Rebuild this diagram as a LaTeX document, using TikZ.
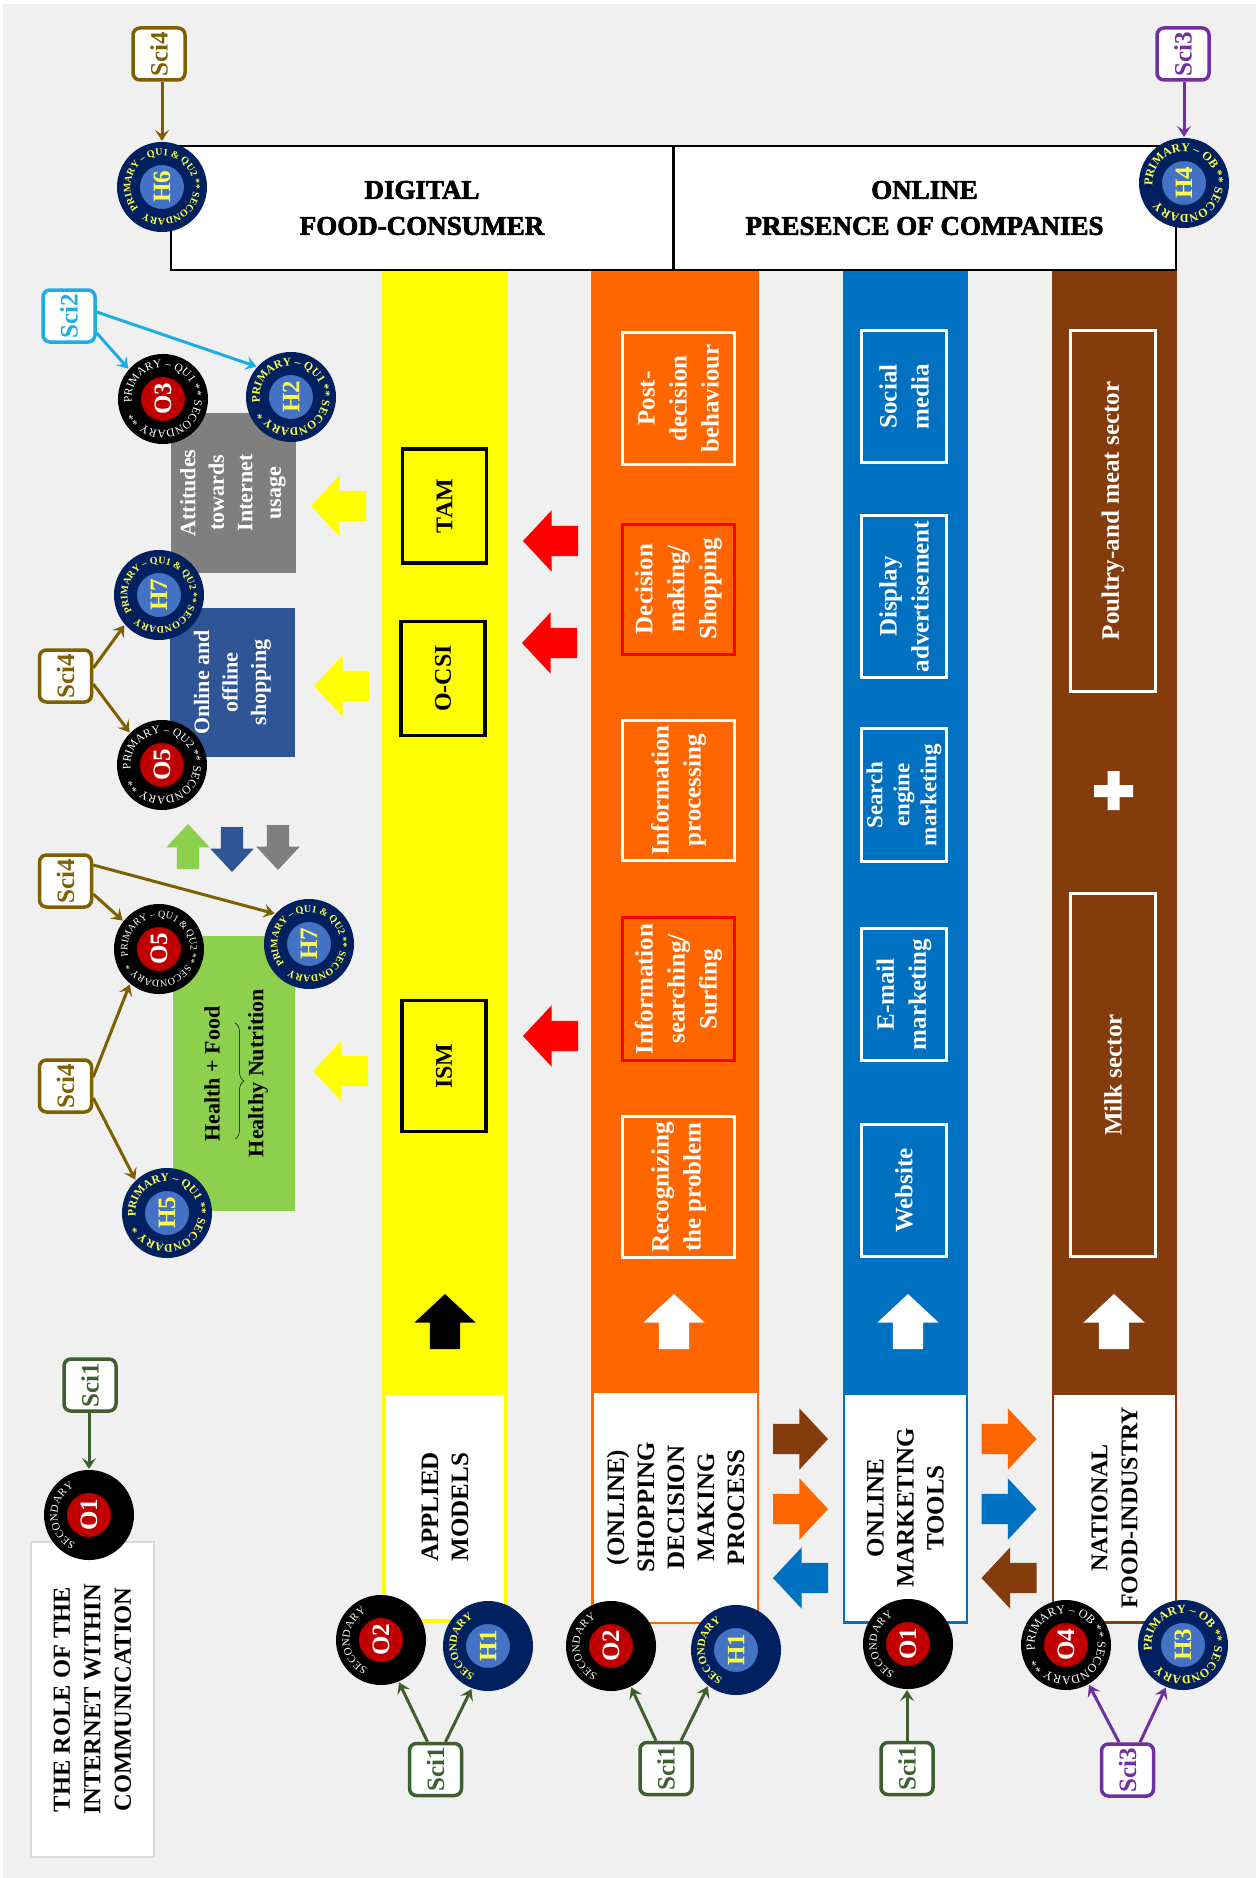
\documentclass[tikz,border=0pt]{standalone}
\usepackage{fontspec}
\setmainfont{Liberation Serif}
\newfontfamily\headfont[UprightFont={* Bold},FakeBold=2.5]{Liberation Serif}
\usepackage{xcolor}
\usetikzlibrary{arrows.meta, shapes.arrows, decorations.text, decorations.pathreplacing}
\definecolor{pagegray}{HTML}{F0F0F0}
\definecolor{bandyellow}{HTML}{FFFF00}
\definecolor{bandorange}{HTML}{FF6600}
\definecolor{bandblue}{HTML}{0070C0}
\definecolor{bandbrown}{HTML}{843C0C}
\definecolor{topicgray}{HTML}{7F7F7F}
\definecolor{topicblue}{HTML}{2F5597}
\definecolor{topicgreen}{HTML}{8CD04E}
\definecolor{hnavy}{HTML}{002060}
\definecolor{hblue}{HTML}{4472C4}
\definecolor{hyellow}{HTML}{FFFF4D}
\definecolor{ored}{HTML}{C00000}
\definecolor{scibrown}{HTML}{7F6000}
\definecolor{scigreen}{HTML}{3F5F30}
\definecolor{sciblue}{HTML}{1CADE4}
\definecolor{scipurple}{HTML}{7030A0}
\newcommand{\ringtext}[6]{\path[decorate, decoration={text along path, text format delimiters={|}{|}, text={|\fontsize{#2}{#2}\selectfont#3|#6}, text align=fit to path}] ([shift={(#4:31.5pt)}]#1.center) arc[start angle=#4, delta angle=#5, radius=31.5pt];}

\begin{document}
\begin{tikzpicture}[
		x=1pt, y=-1pt,
		band/.style={rectangle, inner sep=0, outer sep=0},
		headbox/.style={draw=black, line width=2pt, fill=white, font=\headfont\fontsize{27}{36}\selectfont, align=center, minimum width=502pt, minimum height=124pt, inner sep=0},
		labelbox/.style={rotate=90, fill=white, font=\bfseries\fontsize{25}{30}\selectfont, align=center, inner sep=0, minimum width=226pt},
		stepbox/.style={rotate=90, draw=#1, line width=3pt, text=white, font=\bfseries\fontsize{25}{32}\selectfont, align=center, inner sep=0},
		modelbox/.style={rotate=90, draw=black, line width=3.5pt, font=\bfseries\fontsize{24}{30}\selectfont, inner sep=0, minimum height=84pt},
		topicbox/.style={rotate=90, fill=#1, text=white, font=\bfseries\fontsize{22}{28.5}\selectfont, align=center, inner sep=0, minimum height=125pt},
		sci/.style={rotate=90, draw=#1, text=#1, fill=white, line width=3.5pt, rounded corners=7pt, minimum width=52pt, minimum height=52pt, inner sep=0, font=\bfseries\fontsize{25}{25}\selectfont},
		sciarrow/.style={draw=#1, line width=3pt, -{Stealth[length=11pt, width=14pt, inset=4.5pt]}, shorten >=1pt},
		badgeh/.style={circle, fill=hblue, draw=hnavy, line width=23pt, minimum size=67pt, inner sep=0, text=hyellow, font=\bfseries\fontsize{25}{25}\selectfont},
		badgeo/.style={circle, fill=ored, draw=black, line width=23pt, minimum size=67pt, inner sep=0, text=white, font=\bfseries\fontsize{25}{25}\selectfont},
		bigarrow/.style={single arrow, fill=#1, anchor=tip, inner sep=0, inner ysep=15pt, outer sep=0, minimum height=55pt, minimum width=61pt, single arrow head extend=15.5pt, single arrow tip angle=94},
		smallarrow/.style={single arrow, fill=#1, anchor=tip, inner sep=0, inner ysep=11pt, outer sep=0, minimum height=45pt, minimum width=42pt, single arrow head extend=10.5pt, single arrow tip angle=86}
	]
	\useasboundingbox (0,0) rectangle (1258,1878);
	\fill[pagegray] (3,4) rectangle (1256,1878);

	% --- Bands ---
	\node[band, fill=bandyellow, minimum width=126pt, minimum height=1352pt] (b_model) at (445,947) {};
	\node[band, fill=bandorange, minimum width=168pt, minimum height=1353pt] (b_shop) at (675,947.5) {};
	\node[band, fill=bandblue, minimum width=125pt, minimum height=1353pt] (b_tool) at (905.5,947.5) {};
	\node[band, fill=bandbrown, minimum width=125pt, minimum height=1353pt] (b_ind) at (1114.5,947.5) {};

	% --- Header and titles ---
	\node[headbox] (h_cons) at (422,208) {DIGITAL\\FOOD-CONSUMER};
	\node[headbox] (h_comp) at (924.5,208) {ONLINE\\PRESENCE OF COMPANIES};
	\node[labelbox, minimum height=123pt, minimum width=315pt, draw=black!15, line width=1.5pt, font=\bfseries\fontsize{24.5}{30.5}\selectfont] (title) at (92.5,1699.5) {THE ROLE OF THE\\INTERNET WITHIN\\COMMUNICATION};
	\node[labelbox, minimum height=118pt, minimum width=224pt] (l_model) at (445,1507) {APPLIED\\MODELS};
	\node[labelbox, minimum height=163pt, minimum width=229pt] (l_shop) at (675.5,1507.5) {(ONLINE)\\SHOPPING\\DECISION\\MAKING\\PROCESS};
	\node[labelbox, minimum height=121pt] (l_tool) at (905.5,1508) {ONLINE\\MARKETING\\TOOLS};
	\node[labelbox, minimum height=121pt, font=\bfseries\fontsize{24}{30}\selectfont] (l_ind) at (1114.5,1508) {NATIONAL\\FOOD-INDUSTRY};

	% --- Applied models ---
	\node[modelbox, minimum width=114pt] (tam) at (444.5,506) {TAM};
	\node[modelbox, minimum width=114pt] (ocsi) at (443,678.5) {O-CSI};
	\node[modelbox, minimum width=131pt] (ism) at (444,1066) {ISM};

	% --- Decision steps ---
	\node[stepbox=white, minimum height=112pt, minimum width=132pt] (s_post) at (678.5,398.5) {Post-\\decision\\behaviour};
	\node[stepbox=red, minimum height=112pt, minimum width=130pt] (s_dec) at (678.5,589) {Decision\\making/\\Shopping};
	\node[stepbox=white, minimum height=112pt, minimum width=140pt] (s_proc) at (678.5,790.5) {Information\\processing};
	\node[stepbox=red, minimum height=112pt, minimum width=143pt] (s_search) at (678.5,989) {Information\\searching/\\Surfing};
	\node[stepbox=white, minimum height=112pt, minimum width=141pt] (s_rec) at (678.5,1187) {Recognizing\\the problem};

	% --- Marketing tools ---
	\node[stepbox=white, minimum height=85pt, minimum width=132pt] (t_soc) at (904,396.5) {Social\\media};
	\node[stepbox=white, minimum height=85pt, minimum width=162pt] (t_dis) at (904,596.5) {Display\\advertisement};
	\node[stepbox=white, minimum height=85pt, minimum width=133pt, font=\bfseries\fontsize{23}{27}\selectfont] (t_sea) at (904,795) {Search\\engine\\marketing};
	\node[stepbox=white, minimum height=85pt, minimum width=132pt] (t_mail) at (904,994.5) {E-mail\\marketing};
	\node[stepbox=white, minimum height=85pt, minimum width=132pt] (t_web) at (904,1190.5) {Website};

	% --- Sectors ---
	\node[stepbox=white, minimum height=85pt, minimum width=361pt] (f_meat) at (1113,511) {Poultry-and meat sector};
	\node[stepbox=white, minimum height=85pt, minimum width=363pt] (f_milk) at (1113,1075) {Milk sector};
	\fill[white] (1094,785) rectangle (1133,797) (1107.5,771) rectangle (1119.5,810);

	% --- Topics ---
	\node[topicbox=topicgray, minimum width=160pt] (n_att) at (233,493) {Attitudes\\towards\\Internet\\usage};
	\node[topicbox=topicblue, minimum width=149pt] (n_shop) at (232.5,682.5) {Online and\\offline\\shopping};
	\node[topicbox=topicgreen, minimum width=275pt, minimum height=122pt] (n_food) at (234,1073.5) {};
	\node[rotate=90, inner sep=0, font=\bfseries\fontsize{22}{26}\selectfont] (n_hf) at (212,1074) {Health + Food};
	\node[rotate=90, inner sep=0, font=\bfseries\fontsize{22}{26}\selectfont] (n_hn) at (258,1073) {Healthy Nutrition};
	\draw[decorate, decoration={brace, amplitude=9pt}, line width=.5pt] (235,1023) -- (235,1139);

	% --- Block arrows ---
	\node[bigarrow=red, rotate=180] (r_a) at (523,541) {};
	\node[bigarrow=red, rotate=180] (r_b) at (522,643) {};
	\node[bigarrow=red, rotate=180] (r_c) at (523,1036) {};
	\node[bigarrow=bandyellow, rotate=180] (y_a) at (311,506) {};
	\node[bigarrow=bandyellow, rotate=180] (y_b) at (314,686) {};
	\node[bigarrow=bandyellow, rotate=180] (y_c) at (313,1071) {};
	\node[bigarrow=black, rotate=90] (u_a) at (445,1294) {};
	\node[bigarrow=white, rotate=90] (u_b) at (674,1294) {};
	\node[bigarrow=white, rotate=90] (u_c) at (908,1294) {};
	\node[bigarrow=white, rotate=90] (u_d) at (1114,1294) {};
	\node[bigarrow=bandbrown] (g_a) at (828,1439) {};
	\node[bigarrow=bandorange] (g_b) at (828,1509) {};
	\node[bigarrow=bandblue, rotate=180] (g_c) at (773,1578) {};
	\node[bigarrow=bandorange] (g_d) at (1036.5,1439) {};
	\node[bigarrow=bandblue] (g_e) at (1036.5,1509) {};
	\node[bigarrow=bandbrown, rotate=180] (g_f) at (981.5,1578) {};
	\node[smallarrow=topicgreen, rotate=90] (a_up) at (188,824) {};
	\node[smallarrow=topicblue, rotate=-90] (a_blue) at (232,872) {};
	\node[smallarrow=topicgray, rotate=-90] (a_gray) at (278,870) {};

	% --- Badges ---
	\node[badgeh] (h6) at (162,187) {\rotatebox{90}{H6}};
	\node[badgeh] (h4) at (1184,183) {\rotatebox{90}{H4}};
	\node[badgeo] (o3) at (163,399) {\rotatebox{90}{O3}};
	\node[badgeh] (h2) at (291,397) {\rotatebox{90}{H2}};
	\node[badgeh] (h7_a) at (159,595) {\rotatebox{90}{H7}};
	\node[badgeo] (o5_a) at (162,765) {\rotatebox{90}{O5}};
	\node[badgeo] (o5_b) at (159,949) {\rotatebox{90}{O5}};
	\node[badgeh] (h7_b) at (309,944) {\rotatebox{90}{H7}};
	\node[badgeh] (h5) at (167,1213) {\rotatebox{90}{H5}};
	\node[badgeo] (o1_a) at (89,1515) {\rotatebox{90}{O1}};
	\node[badgeo] (o2_a) at (381,1640) {\rotatebox{90}{O2}};
	\node[badgeh] (h1_a) at (488,1646) {\rotatebox{90}{H1}};
	\node[badgeo] (o2_b) at (611,1646) {\rotatebox{90}{O2}};
	\node[badgeh] (h1_b) at (736,1650) {\rotatebox{90}{H1}};
	\node[badgeo] (o1_b) at (908,1644) {\rotatebox{90}{O1}};
	\node[badgeo] (o4) at (1066,1645) {\rotatebox{90}{O4}};
	\node[badgeh] (h3) at (1183,1645) {\rotatebox{90}{H3}};

	% --- Badge rings ---
	\ringtext{h6}{10}{\bfseries\color{hyellow}}{222}{-345}{PRIMARY – QU1 {\&} QU2 ** SECONDARY **}
	\ringtext{h4}{12}{\bfseries\color{hyellow}}{185}{-340}{PRIMARY – OB ** SECONDARY **}
	\ringtext{o3}{11.5}{\color{white}}{187}{-340}{PRIMARY – QU1 ** SECONDARY **}
	\ringtext{h2}{11.5}{\bfseries\color{hyellow}}{190}{-340}{PRIMARY – QU1 ** SECONDARY **}
	\ringtext{h7_a}{10}{\bfseries\color{hyellow}}{212}{-345}{PRIMARY – QU1 {\&} QU2 ** SECONDARY **}
	\ringtext{o5_a}{11.5}{\color{white}}{188}{-340}{PRIMARY – QU2 ** SECONDARY **}
	\ringtext{o5_b}{10}{\color{white}}{193}{-345}{PRIMARY – QU1 {\&} QU2 ** SECONDARY **}
	\ringtext{h7_b}{10}{\bfseries\color{hyellow}}{219}{-345}{PRIMARY – QU1 {\&} QU2 ** SECONDARY **}
	\ringtext{h5}{11.5}{\bfseries\color{hyellow}}{187}{-340}{PRIMARY – QU1 ** SECONDARY **}
	\ringtext{o4}{12}{\color{white}}{190}{-340}{PRIMARY – OB ** SECONDARY **}
	\ringtext{h3}{12}{\bfseries\color{hyellow}}{190}{-340}{PRIMARY – OB ** SECONDARY **}
	\ringtext{o1_a}{11}{\color{white}}{245}{-127}{SECONDARY}
	\ringtext{o2_a}{11}{\color{white}}{245}{-127}{SECONDARY}
	\ringtext{h1_a}{11}{\bfseries\color{hyellow}}{245}{-127}{SECONDARY}
	\ringtext{o2_b}{11}{\color{white}}{245}{-127}{SECONDARY}
	\ringtext{h1_b}{11}{\bfseries\color{hyellow}}{245}{-127}{SECONDARY}
	\ringtext{o1_b}{11}{\color{white}}{245}{-127}{SECONDARY}

	% --- Sci boxes ---
	\node[sci=scibrown] (sci_h6) at (159,54) {Sci4};
	\node[sci=scipurple] (sci_h4) at (1183,54) {Sci3};
	\node[sci=sciblue] (sci_i) at (69,316) {Sci2};
	\node[sci=scibrown] (sci_a) at (65.5,676) {Sci4};
	\node[sci=scibrown] (sci_b) at (65.5,881) {Sci4};
	\node[sci=scibrown] (sci_c) at (65.5,1086) {Sci4};
	\node[sci=scigreen] (sci_o1) at (90,1385) {Sci1};
	\node[sci=scigreen] (sci_m) at (435.5,1769.5) {Sci1};
	\node[sci=scigreen] (sci_s) at (666,1768.5) {Sci1};
	\node[sci=scigreen] (sci_t) at (907,1768.5) {Sci1};
	\node[sci=scipurple] (sci_n) at (1127.5,1770) {Sci3};

	% --- Connections ---
	\draw[sciarrow=scibrown] (sci_h6.west -| h6.90) -- (h6.90);
	\draw[sciarrow=scipurple] (sci_h4.west -| h4.90) -- (h4.90);
	\draw[sciarrow=scigreen] (sci_o1.west -| o1_a.90) -- (o1_a.90);

	\draw[sciarrow=sciblue] ([yshift=-17pt]sci_i.south) -- (o3.139);
	\draw[sciarrow=sciblue] ([yshift=4pt]sci_i.south) -- (h2.138);

	\draw[sciarrow=scibrown] ([yshift=8pt]sci_a.south) -- (h7_a.221);
	\draw[sciarrow=scibrown] ([yshift=-8pt]sci_a.south) -- (o5_a.135);

	\draw[sciarrow=scibrown] ([yshift=-13pt]sci_b.south) -- (o5_b.142);
	\draw[sciarrow=scibrown] ([yshift=16pt]sci_b.south) -- (h7_b.138);

	\draw[sciarrow=scibrown] ([yshift=9pt]sci_c.south) -- (o5_b.230);
	\draw[sciarrow=scibrown] ([yshift=-12pt]sci_c.south) -- (h5.134);

	\draw[sciarrow=scigreen] ([xshift=-8pt]sci_m.east) -- (o2_a.-67);
	\draw[sciarrow=scigreen] ([xshift=10pt]sci_m.east) -- (h1_a.-111);

	\draw[sciarrow=scigreen] ([xshift=-10pt]sci_s.east) -- (o2_b.-64);
	\draw[sciarrow=scigreen] ([xshift=15pt]sci_s.east) -- (h1_b.-128);

	\draw[sciarrow=scigreen] (sci_t.east) -- (sci_t.east |- o1_b.-90);

	\draw[sciarrow=scipurple] ([xshift=-8.5pt]sci_n.east) -- (o4.-60);
	\draw[sciarrow=scipurple] ([xshift=12.5pt]sci_n.east) -- (h3.-112);

\end{tikzpicture}
\end{document}
